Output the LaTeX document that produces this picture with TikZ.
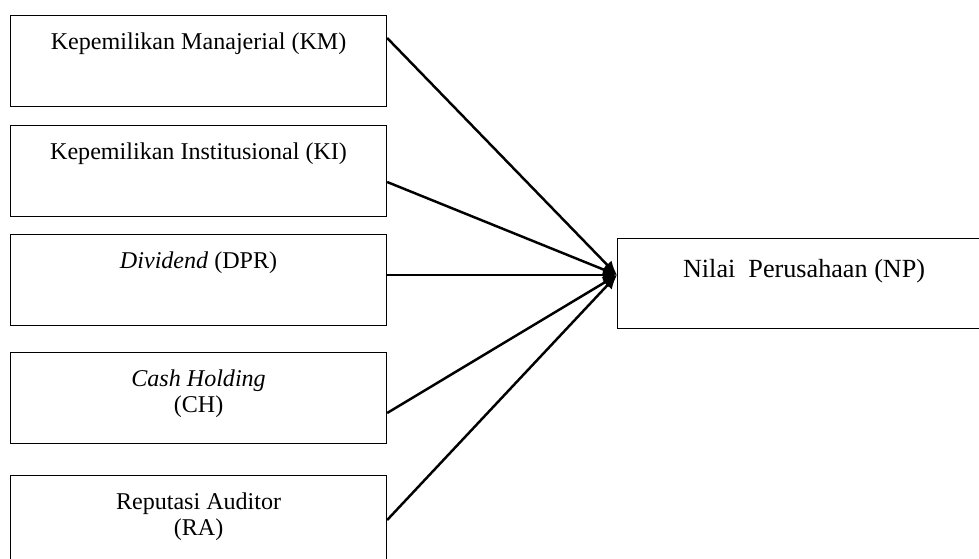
\documentclass[tikz,border=0pt]{standalone}
\usepackage{fontspec}
\setmainfont{Liberation Serif}
\usetikzlibrary{arrows.meta,calc}
\tikzset{>={Latex[length=8pt,width=7pt]}}
\tikzset{var/.style={draw, line width=.7pt, inner sep=0pt, anchor=north west,
    minimum width=7.52cm, minimum height=1.82cm, align=center,
    font=\fontsize{13.7}{14.8}\selectfont, text height=19.4pt, text depth=32.4pt},
    var2/.style={var, text height=34.2pt, text depth=17.6pt}}

\begin{document}
\begin{tikzpicture}[x=0.02cm, y=-0.02cm]
    \path[use as bounding box, clip](0, 0)rectangle(979, 558);
    \node[var](km) at (10, 15){Kepemilikan Manajerial (KM)};
    \node[var](ki) at (10, 125){Kepemilikan Institusional (KI)};
    \node[var](dpr) at (10, 234){\textit{Dividend} (DPR)};
    \node[var2](ch) at (10, 352){\textit{Cash Holding}\\(CH)};
    \node[var2](ra) at (10, 475){Reputasi Auditor\\(RA)};
    \node[var, minimum width=7.46cm, minimum height=1.8cm, font=\fontsize{14.9}{16}\selectfont,
        text height=22pt, text depth=29.2pt](np) at (617, 238){Nilai\ \ Perusahaan (NP)};
    \coordinate (tip) at ($(np.north west)+(0, 37)$);
    \draw[line width=1.4pt, ->]($(km.north east)+(0, 23)$)--(tip);
    \draw[line width=1.4pt, ->]($(ki.north east)+(0, 57)$)--(tip);
    \draw[line width=1.4pt, ->]($(dpr.north east)+(0, 41)$)--(tip);
    \draw[line width=1.4pt, ->]($(ch.north east)+(0, 61)$)--(tip);
    \draw[line width=1.4pt, ->]($(ra.north east)+(0, 45)$)--(tip);
\end{tikzpicture}
\end{document}
